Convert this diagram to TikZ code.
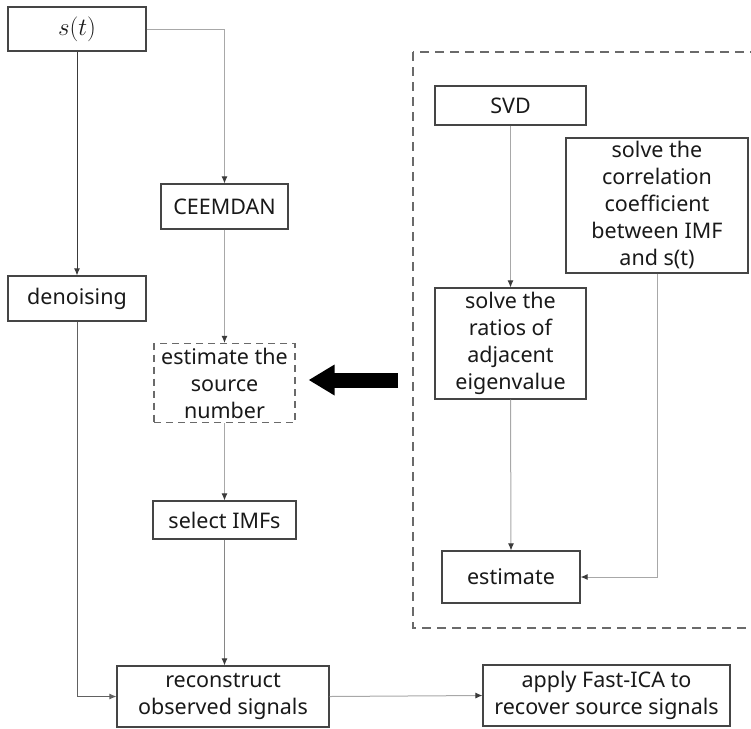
\documentclass[tikz,border=0pt]{standalone}
\usepackage{fontspec}
\setmainfont{Noto Sans}
\usetikzlibrary{arrows.meta}
\definecolor{boxc}{HTML}{454545}
\definecolor{linec}{HTML}{A8A8A8}
\definecolor{darkc}{HTML}{3A3A3A}
\definecolor{dashc}{HTML}{6A6A6A}
\tikzset{
  box/.style={draw=boxc, line width=1.1pt, align=center, inner sep=0pt,
    font=\fontsize{21.5}{27}\selectfont, text=black!90},
  conn/.style={draw=linec, line width=1pt, arrowc},
  darkconn/.style={draw=darkc, line width=1pt, -{Latex[length=7pt,width=6pt]}},
  arrowc/.style={arrows={-{Latex[length=7pt,width=6pt,color=darkc]}}},
}
\begin{document}
\begin{tikzpicture}[x=1pt,y=-1pt]
\useasboundingbox (0,0) rectangle (751,728);
% dashed region
\draw[dashc, line width=1.6pt, dash pattern=on 9pt off 6pt] (413,52) rectangle (775,628);

\node[box, minimum width=138pt, minimum height=44pt] (s) at (77,29) {\fontsize{24}{28}\selectfont$s(t)$};
\node[box, minimum width=138pt, minimum height=45pt] (den) at (77,298.5) {denoising};
\node[box, minimum width=127pt, minimum height=45pt] (ceem) at (224.5,206.5) {CEEMDAN};
\node[box, dashed, dash pattern=on 7pt off 5pt, draw=dashc, minimum width=141pt, minimum height=79pt] (est) at (224.5,383) {estimate the\\source\\number};
\node[box, minimum width=143pt, minimum height=38pt] (sel) at (224.5,520) {select IMFs};
\node[box, minimum width=212pt, minimum height=61pt] (rec) at (223,696.5) {reconstruct\\observed signals};
\node[box, minimum width=247pt, minimum height=61pt] (app) at (606.5,695.5) {apply Fast-ICA to\\recover source signals};
\node[box, minimum width=151pt, minimum height=39pt] (svd) at (510.5,105.5) {SVD};
\node[box, minimum width=182pt, minimum height=135pt] (cor) at (657,205.5) {solve the\\correlation\\coefficient\\between IMF\\and s(t)};
\node[box, minimum width=151pt, minimum height=111pt] (rat) at (510.5,343.5) {solve the\\ratios of\\adjacent\\eigenvalue};
\node[box, minimum width=138pt, minimum height=52pt] (esti) at (511,577) {estimate};

\coordinate (c1) at (224.5,29);
\coordinate (c2) at (77,696.5);
\coordinate (c3) at (657,577);
\coordinate (bigstart) at (398,380);

\draw[conn] (s.east) -- (c1) -- (ceem.north);
\draw[darkconn] (s.south) -- (den.north);
\draw[conn] (ceem.south) -- (est.north);
\draw[conn] (est.south) -- (sel.north);
\draw[conn, draw=linec!80!black] (sel.south) -- (sel.south |- rec.north);
\draw[darkconn, draw=darkc!80] (den.south) -- (c2) -- (rec.west);
\draw[conn] (rec.east) -- (app.west);
\draw[conn] (svd.south) -- (rat.north);
\draw[conn] (rat.south) -- (esti.north);
\draw[conn] (cor.south) -- (c3) -- (esti.east);
\draw[line width=15pt, -{Triangle[length=26pt,width=29pt]}, shorten >=13pt] (bigstart) -- (bigstart -| est.east);
\end{tikzpicture}
\end{document}
